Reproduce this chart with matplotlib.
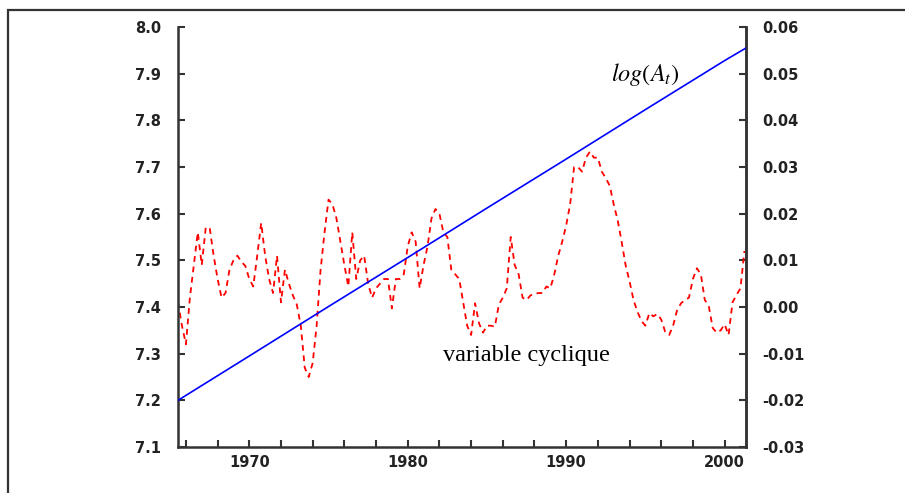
import matplotlib.pyplot as plt
from matplotlib.patches import Rectangle
from matplotlib.ticker import MultipleLocator, FormatStrFormatter

plt.rcParams['axes.unicode_minus'] = False
plt.rcParams['mathtext.fontset'] = 'stix'

# quarterly dates, 1965 Q3 .. 2001 Q2
annees = [1965.5 + 0.25 * k for k in range(144)]

# variable cyclique (right axis)
cycle = [
    0.001, -0.004, -0.008, 0.002, 0.009, 0.016, 0.009, 0.017, 0.017, 0.011,
    0.006, 0.002, 0.003, 0.008, 0.010, 0.011, 0.0097, 0.0088, 0.006, 0.0044,
    0.011, 0.018, 0.011, 0.006, 0.003, 0.011, 0.001, 0.008, 0.005, 0.0025,
    0.0005, -0.004, -0.013, -0.015, -0.012, -0.004, 0.008, 0.016, 0.023, 0.022,
    0.019, 0.014, 0.009, 0.0044, 0.016, 0.006, 0.010, 0.011, 0.005, 0.002,
    0.004, 0.005, 0.006, 0.006, -0.0003, 0.006, 0.006, 0.007, 0.013, 0.016,
    0.014, 0.004, 0.009, 0.013, 0.019, 0.021, 0.020, 0.016, 0.015, 0.008,
    0.007, 0.006, 0.001, -0.004, -0.006, 0.0008, -0.0035, -0.0055, -0.004, -0.004,
    -0.0042, 0.0005, 0.002, 0.004, 0.015, 0.009, 0.007, 0.002, 0.0015, 0.0025,
    0.0028, 0.003, 0.003, 0.0044, 0.004, 0.007, 0.011, 0.014, 0.0175, 0.022,
    0.030, 0.030, 0.029, 0.032, 0.0333, 0.032, 0.032, 0.029, 0.0276, 0.026,
    0.022, 0.0186, 0.014, 0.009, 0.0055, 0.0015, -0.001, -0.003, -0.004, -0.0013,
    -0.002, -0.0015, -0.0027, -0.0053, -0.006, -0.004, -0.0007, 0.0008, 0.0015, 0.002,
    0.006, 0.0083, 0.007, 0.0015, 0.0002, -0.0045, -0.0055, -0.005, -0.0037, -0.006,
    0.001, 0.0026, 0.004, 0.012,
]

# log(A_t) trend (left axis), read at a few dates
annees_a = [1965.5, 1970, 1975, 1980, 1985, 1990, 1995, 2000, 2001.35]
log_a = [7.200, 7.295, 7.401, 7.506, 7.612, 7.717, 7.823, 7.928, 7.955]

fig = plt.figure(figsize=(9.05, 4.93), dpi=100)
ax = fig.add_axes([178 / 905, 1 - 447 / 493, 568 / 905, 420 / 493])
ax2 = ax.twinx()

ax.plot(annees_a, log_a, color='#0000ff', lw=1.2, zorder=3)
ax2.plot(annees, cycle, color='#ff0000', lw=1.3, dashes=(3.2, 2.6))
ax.set_zorder(ax2.get_zorder() + 1)
ax.patch.set_visible(False)

ax.set_xlim(1965.5, 2001.35)
ax.set_ylim(7.1, 8.0)
ax2.set_ylim(-0.03, 0.06)

ax.yaxis.set_major_locator(MultipleLocator(0.1))
ax.yaxis.set_major_formatter(FormatStrFormatter('%.1f'))
ax2.yaxis.set_major_locator(MultipleLocator(0.01))
ax2.yaxis.set_major_formatter(FormatStrFormatter('%.2f'))
ax.xaxis.set_major_locator(MultipleLocator(10))
ax.xaxis.set_minor_locator(MultipleLocator(2))
ax.xaxis.set_major_formatter(FormatStrFormatter('%d'))

lab = dict(family='DejaVu Sans', weight='bold', size=10.5, color='#222222')
for a in (ax, ax2):
    a.spines['top'].set_visible(False)
    for s in a.spines.values():
        s.set_linewidth(1.8)
        s.set_color('#333333')
    a.tick_params(direction='in', length=5, width=1.5, color='#333333')
    for t in a.get_yticklabels() + a.get_xticklabels():
        t.set(**lab)
ax.tick_params(axis='y', pad=12)
ax2.tick_params(axis='y', pad=12)
ax.tick_params(axis='x', which='minor', direction='in', length=5, width=1.5, color='#333333')
ax.tick_params(axis='x', pad=6)
ax2.spines['left'].set_visible(False)
ax2.spines['bottom'].set_visible(False)

fig.text(611 / 905, 1 - 75 / 493, r'$log(A_t)$', fontsize=17.5, va='center', ha='left')
fig.text(443 / 905, 1 - 355 / 493, 'variable cyclique', family='Liberation Serif',
         fontsize=17.5, va='center', ha='left')

# outer frame of the original figure
fig.patches.append(Rectangle((8 / 905, -0.1), 1.2, 1 - 10 / 493 + 0.1,
                             transform=fig.transFigure, fill=False,
                             edgecolor='#333333', lw=1.6))

fig.savefig('out.png', dpi=100)
